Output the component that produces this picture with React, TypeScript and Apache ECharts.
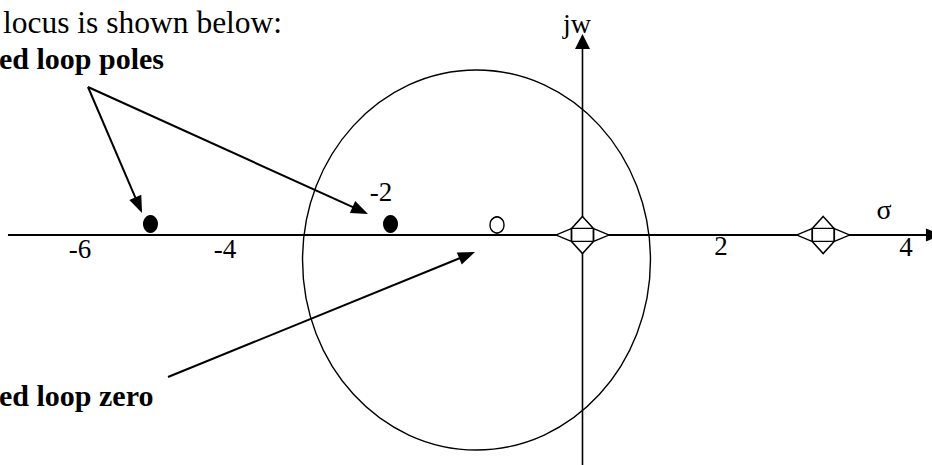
import React, { useEffect, useRef } from "react";
import * as echarts from "echarts";

// s-plane window (sigma horizontally, j-omega vertically), same scale on both axes
const sigmaRange = [-7.018, 4.211];
const omegaRange = [-2.771, 2.831];

// axis lines: [sigmaStart, omegaStart, sigmaEnd, omegaEnd]
const realAxis = [[-6.922, 0, 4.331, 0]];
const imagAxis = [[0, -2.771, 0, 2.422]];

// root locus circle: [centerSigma, centerOmega, radiusSigma, radiusOmega]
const locusCircle = [[-1.277, -0.301, 2.096, 2.289]];

// closed loop poles and zero, open loop poles (on the real axis)
const closedLoopPoles = [-5.205, -2.313];
const closedLoopZeros = [-1.03];
const openLoopPoles = [0, 2.9];

// tick labels and where they sit
const tickLabels = ["-6", "-4", "-2", "2", "4"];
const tickSigma = [-6.054, -4.307, -2.428, 1.669, 3.898];
const tickOmega = [-0.169, -0.169, 0.518, -0.133, -0.139];

// axis names
const axisNames = ["σ", "jw"];
const axisNameSigma = [3.633, -0.066];
const axisNameOmega = [0.307, 2.543];

// annotation arrows: [fromSigma, fromOmega, toSigma, toOmega]
const annotationArrows = [
  [-5.958, 1.783, -5.307, 0.265],
  [-5.958, 1.783, -2.584, 0.253],
  [-4.994, -1.711, -1.295, -0.205],
];

const topNote = "locus is shown below:";
const polesNote = "ed loop poles";
const zeroNote = "ed loop zero";

const SERIF = '"Liberation Serif", "Times New Roman", serif';

function arrowRenderer(headLen: number, headHalf: number, lineWidth: number) {
  return (params: any, api: any) => {
    const a = api.coord([api.value(0), api.value(1)]);
    const b = api.coord([api.value(2), api.value(3)]);
    const dx = b[0] - a[0];
    const dy = b[1] - a[1];
    const len = Math.hypot(dx, dy) || 1;
    const ux = dx / len;
    const uy = dy / len;
    const bx = b[0] - ux * headLen;
    const by = b[1] - uy * headLen;
    return {
      type: "group",
      children: [
        {
          type: "line",
          shape: { x1: a[0], y1: a[1], x2: bx + ux, y2: by + uy },
          style: { stroke: "#000", lineWidth },
        },
        {
          type: "polygon",
          shape: {
            points: [
              [b[0], b[1]],
              [bx - uy * headHalf, by + ux * headHalf],
              [bx + uy * headHalf, by - ux * headHalf],
            ],
          },
          style: { fill: "#000" },
        },
      ],
    };
  };
}

const openLoopSymbol =
  "path://M26.5,0 L37.5,12 L53,18.5 L37.5,25 L26.5,37 L15.5,25 L0,18.5 L15.5,12 Z M15.5,12 L37.5,12 L37.5,25 L15.5,25 Z";

function noteText(text: string, x: number, y: number, font: string, align = "left") {
  return {
    type: "text",
    x,
    y,
    silent: true,
    style: { text, fill: "#000", font, align, verticalAlign: "middle" },
  };
}

export default function App() {
  const ref = useRef<HTMLDivElement>(null);

  useEffect(() => {
    if (!ref.current) return;
    const chart = echarts.init(ref.current, undefined, { renderer: "svg" });

    const arrowDims = { x: [0, 2], y: [1, 3] };

    chart.setOption({
      animation: false,
      backgroundColor: "#fff",
      grid: { left: 0, right: 0, top: 0, bottom: 0, containLabel: false },
      xAxis: { type: "value", min: sigmaRange[0], max: sigmaRange[1], show: false },
      yAxis: { type: "value", min: omegaRange[0], max: omegaRange[1], show: false },
      series: [
        {
          type: "custom",
          name: "real axis",
          data: realAxis,
          encode: arrowDims,
          renderItem: arrowRenderer(16, 6.5, 2),
          silent: true,
          clip: false,
          z: 2,
        },
        {
          type: "custom",
          name: "imaginary axis",
          data: imagAxis,
          encode: arrowDims,
          renderItem: arrowRenderer(15, 7.5, 1.6),
          silent: true,
          clip: false,
          z: 2,
        },
        {
          type: "custom",
          name: "root locus",
          data: locusCircle,
          encode: { x: 0, y: 1 },
          renderItem: (params: any, api: any) => {
            const c = api.coord([api.value(0), api.value(1)]);
            const s = api.size([api.value(2), api.value(3)]);
            return {
              type: "ellipse",
              shape: { cx: c[0], cy: c[1], rx: s[0], ry: s[1] },
              style: { fill: "none", stroke: "#000", lineWidth: 1.4 },
            };
          },
          silent: true,
          clip: false,
          z: 2,
        },
        {
          type: "custom",
          name: "annotations",
          data: annotationArrows,
          encode: arrowDims,
          renderItem: arrowRenderer(17, 6.5, 2),
          silent: true,
          clip: false,
          z: 3,
        },
        {
          type: "scatter",
          name: "closed loop poles",
          data: closedLoopPoles.map((s) => [s, 0]),
          symbol: "circle",
          symbolSize: [15, 18],
          symbolOffset: [0, -11],
          itemStyle: { color: "#000", opacity: 1 },
          silent: true,
          z: 4,
        },
        {
          type: "scatter",
          name: "closed loop zero",
          data: closedLoopZeros.map((s) => [s, 0]),
          symbol: "circle",
          symbolSize: [14, 16],
          symbolOffset: [0, -10],
          itemStyle: { color: "#fff", borderColor: "#000", borderWidth: 1.5, opacity: 1 },
          silent: true,
          z: 4,
        },
        {
          type: "scatter",
          name: "open loop poles",
          data: openLoopPoles.map((s) => [s, 0]),
          symbol: openLoopSymbol,
          symbolSize: [53, 37],
          symbolKeepAspect: false,
          itemStyle: { color: "#fff", borderColor: "#000", borderWidth: 1.5, opacity: 1 },
          silent: true,
          z: 4,
        },
      ],
    });

    // tick labels and axis names, placed through the grid's own scales
    const toPx = (s: number, o: number) => chart.convertToPixel({ gridIndex: 0 }, [s, o]) as number[];
    const placed: any[] = [];
    tickLabels.forEach((t, i) => {
      const p = toPx(tickSigma[i], tickOmega[i]);
      placed.push(noteText(t, p[0], p[1], `27px ${SERIF}`, "center"));
    });
    axisNames.forEach((t, i) => {
      const p = toPx(axisNameSigma[i], axisNameOmega[i]);
      placed.push(noteText(t, p[0], p[1], `28px ${SERIF}`, "center"));
    });

    chart.setOption({
      graphic: [
        noteText(topNote, 3, 22.5, `31.5px ${SERIF}`),
        noteText(polesNote, -1, 58, `bold 30px ${SERIF}`),
        noteText(zeroNote, -1, 395, `bold 30px ${SERIF}`),
        ...placed,
      ],
    });

    return () => chart.dispose();
  }, []);

  return (
    <div
      ref={ref}
      style={{ position: "absolute", left: 0, top: 0, width: 932, height: 465, background: "#fff" }}
    />
  );
}
